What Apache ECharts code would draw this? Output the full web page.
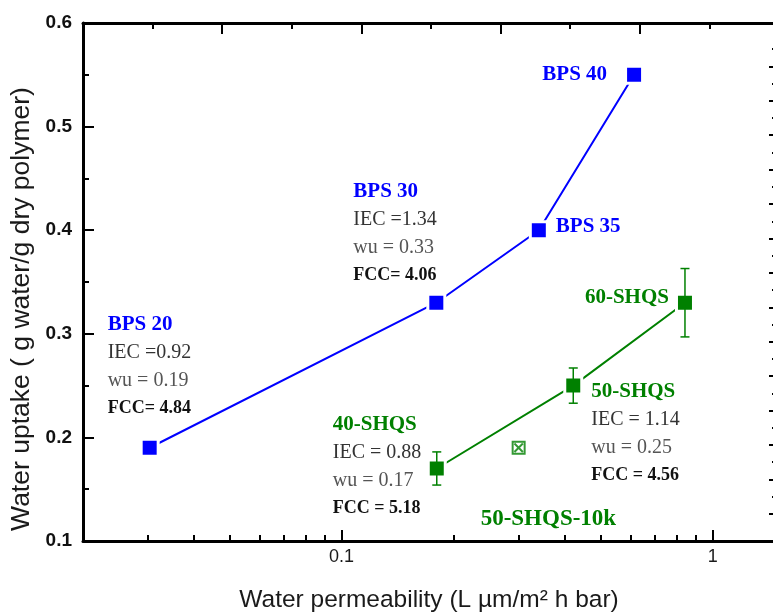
<!DOCTYPE html>
<html>
<head>
<meta charset="utf-8">
<script src="https://cdn.jsdelivr.net/npm/echarts@6/dist/echarts.min.js"></script>
<style>
  html, body { margin: 0; padding: 0; background: #fff; }
  #chart { width: 773px; height: 614px; }
</style>
</head>
<body>
<div id="chart"></div>
<script>
// ---- BPS copolymers ----
const bpsNames = ['BPS 20', 'BPS 30', 'BPS 35', 'BPS 40'];
const bpsPermeability = [0.0304, 0.180, 0.340, 0.614];
const bpsUptake = [0.19, 0.33, 0.40, 0.55];
const bpsIEC = [0.92, 1.34, null, null];
const bpsFCC = [4.84, 4.06, null, null];

// ---- SHQS copolymers ----
const shqsNames = ['40-SHQS', '50-SHQS', '60-SHQS'];
const shqsPermeability = [0.1805, 0.421, 0.842];
const shqsUptake = [0.17, 0.25, 0.33];
const shqsUptakeErr = [0.016, 0.017, 0.033];
const shqsIEC = [0.88, 1.14, null];
const shqsFCC = [5.18, 4.56, null];

// ---- 10k block length variant ----
const hmwNames = ['50-SHQS-10k'];
const hmwPermeability = [0.30];
const hmwUptake = [0.19];

// ---- axes ----
const xTitle = 'Water permeability (L µm/m² h bar)';
const yTitle = 'Water uptake ( g water/g dry polymer)';
const xRange = [0.0201, 1.472];
const xMajorTicks = [0.1, 1];
const xMinorTicks = [0.03, 0.04, 0.05, 0.06, 0.07, 0.08, 0.09, 0.2, 0.3, 0.4, 0.5, 0.6, 0.7, 0.8, 0.9];
const yRange = [0.1, 0.6];
const yStep = 0.1;
// frame ticks along the top and right edges
const topRange = [0, 9.943];
const topMajorTicks = [2, 4, 6, 8];
const topMinorTicks = [1, 3, 5, 7, 9];
const rightRange = [0.424, 30.52];
const rightMajorTicks = [2, 4, 6, 8, 10, 12, 14, 16, 18, 20, 22, 24, 26, 28];
const rightMinorTicks = [3, 5, 7, 9, 11, 13, 15, 17, 19, 21, 23, 25, 27, 29];

const BLUE = '#0000ff';
const GREEN = '#008000';
const lg = Math.log10;

const frameLine = { show: true, onZero: false, lineStyle: { color: '#000', width: 3 } };
const tickStyle = { color: '#000', width: 2 };

const chart = echarts.init(document.getElementById('chart'), null, { renderer: 'canvas' });

const option = {
  animation: false,
  backgroundColor: '#fff',
  grid: { left: 83, top: 23, right: -2, bottom: 73, containLabel: false, outerBoundsMode: 'none' },
  xAxis: [
    {
      type: 'value', position: 'bottom',
      min: lg(xRange[0]), max: lg(xRange[1]),
      axisLine: frameLine,
      axisTick: { show: true, inside: true, length: 11, lineStyle: tickStyle, customValues: xMajorTicks.map(lg) },
      axisLabel: {
        customValues: xMajorTicks.map(lg),
        formatter: v => String(+Math.pow(10, v).toPrecision(6)),
        color: '#1a1a1a', fontSize: 18, fontFamily: 'Liberation Sans', margin: 7
      },
      splitLine: { show: false },
      name: xTitle,
      nameLocation: 'middle', nameGap: 47,
      nameTextStyle: { color: '#1a1a1a', fontSize: 24.5, fontFamily: 'Liberation Sans' }
    },
    {
      type: 'value', position: 'bottom',
      min: lg(xRange[0]), max: lg(xRange[1]),
      axisLine: { show: false, onZero: false },
      axisTick: { show: true, inside: true, length: 6, lineStyle: tickStyle, customValues: xMinorTicks.map(lg) },
      axisLabel: { show: false },
      splitLine: { show: false }
    },
    {
      type: 'value', position: 'top',
      min: topRange[0], max: topRange[1],
      axisLine: frameLine,
      axisTick: { show: true, inside: true, length: 11, lineStyle: tickStyle, customValues: topMajorTicks },
      axisLabel: { show: false },
      splitLine: { show: false }
    },
    {
      type: 'value', position: 'top',
      min: topRange[0], max: topRange[1],
      axisLine: { show: false, onZero: false },
      axisTick: { show: true, inside: true, length: 6, lineStyle: tickStyle, customValues: topMinorTicks },
      axisLabel: { show: false },
      splitLine: { show: false }
    }
  ],
  yAxis: [
    {
      type: 'value', position: 'left',
      min: yRange[0], max: yRange[1], interval: yStep,
      axisLine: frameLine,
      axisTick: { show: true, inside: true, length: 11, lineStyle: tickStyle },
      minorTick: { show: true, splitNumber: 2, length: 6, lineStyle: tickStyle },
      axisLabel: {
        formatter: v => v.toFixed(1),
        color: '#111', fontSize: 19, fontWeight: 'bold', fontFamily: 'Liberation Sans', margin: 11
      },
      splitLine: { show: false },
      minorSplitLine: { show: false }
    },
    {
      type: 'value', position: 'right',
      min: rightRange[0], max: rightRange[1],
      axisLine: frameLine,
      axisTick: { show: true, inside: true, length: 6, lineStyle: tickStyle, customValues: rightMajorTicks },
      axisLabel: { show: false },
      splitLine: { show: false }
    },
    {
      type: 'value', position: 'right',
      min: rightRange[0], max: rightRange[1],
      axisLine: { show: false, onZero: false },
      axisTick: { show: true, inside: true, length: 3, lineStyle: tickStyle, customValues: rightMinorTicks },
      axisLabel: { show: false },
      splitLine: { show: false }
    }
  ],
  series: [
    {
      name: 'BPS', type: 'line', xAxisIndex: 0, yAxisIndex: 0,
      data: bpsPermeability.map((x, i) => [lg(x), bpsUptake[i]]),
      symbol: 'rect', symbolSize: 17, showAllSymbol: true,
      itemStyle: { color: BLUE, borderColor: '#fff', borderWidth: 3 },
      lineStyle: { color: BLUE, width: 2 },
      z: 3
    },
    {
      name: 'SHQS', type: 'line', xAxisIndex: 0, yAxisIndex: 0,
      data: shqsPermeability.map((x, i) => [lg(x), shqsUptake[i]]),
      symbol: 'rect', symbolSize: 17, showAllSymbol: true,
      itemStyle: { color: GREEN, borderColor: '#fff', borderWidth: 3 },
      lineStyle: { color: GREEN, width: 2 },
      z: 3
    },
    {
      name: 'SHQS error', type: 'custom', xAxisIndex: 0, yAxisIndex: 0,
      data: shqsPermeability.map((x, i) => [lg(x), shqsUptake[i] - shqsUptakeErr[i], shqsUptake[i] + shqsUptakeErr[i]]),
      encode: { x: 0, y: [1, 2] },
      renderItem: (params, api) => {
        const lo = api.coord([api.value(0), api.value(1)]);
        const hi = api.coord([api.value(0), api.value(2)]);
        const w = 4.5;
        const st = { stroke: GREEN, lineWidth: 1.5 };
        return {
          type: 'group',
          children: [
            { type: 'line', shape: { x1: lo[0], y1: lo[1], x2: hi[0], y2: hi[1] }, style: st },
            { type: 'line', shape: { x1: lo[0] - w, y1: lo[1], x2: lo[0] + w, y2: lo[1] }, style: st },
            { type: 'line', shape: { x1: hi[0] - w, y1: hi[1], x2: hi[0] + w, y2: hi[1] }, style: st }
          ]
        };
      },
      z: 4
    },
    {
      name: '50-SHQS-10k', type: 'scatter', xAxisIndex: 0, yAxisIndex: 0,
      data: hmwPermeability.map((x, i) => [lg(x), hmwUptake[i]]),
      symbol: 'path://M0,0 L10,0 L10,10 L0,10 Z M1.5,1.5 L8.5,8.5 M8.5,1.5 L1.5,8.5',
      symbolSize: 12,
      itemStyle: { color: '#fff', borderColor: GREEN, borderWidth: 2 },
      z: 4
    }
  ]
};

chart.setOption(option);

// ---- text blocks next to the markers ----
const nameFont = 'bold 21px "Liberation Serif"';
const iecFont = '20px "Liberation Serif"';
const wuFont = '20px "Liberation Serif"';
const fccFont = 'bold 18px "Liberation Serif"';
const lineStep = 28;

const bpsNoteLayout = [
  { dx: -42, dy: -123, align: 'left' },
  { dx: -83, dy: -111, align: 'left' },
  { dx: 17, dy: -4, align: 'left' },
  { dx: -27, dy: 0, align: 'right' }
];
const shqsNoteLayout = [
  { dx: -104, dy: -44, align: 'left' },
  { dx: 18, dy: 6, align: 'left' },
  { dx: -16, dy: -5, align: 'right' }
];
const hmwNoteLayout = [{ dx: -38, dy: 71, align: 'left', font: 'bold 23px "Liberation Serif"' }];

const texts = [];
function addBlock(seriesIndex, point, layout, lines) {
  const p = chart.convertToPixel({ seriesIndex }, point);
  lines.forEach((ln, k) => {
    texts.push({
      type: 'text', z: 10,
      x: p[0] + layout.dx, y: p[1] + layout.dy + k * lineStep,
      style: { text: ln.text, font: ln.font, fill: ln.fill, align: layout.align, verticalAlign: 'middle' }
    });
  });
}

bpsNames.forEach((name, i) => {
  const lines = [{ text: name, font: nameFont, fill: BLUE }];
  if (bpsIEC[i] != null) {
    lines.push({ text: 'IEC =' + bpsIEC[i].toFixed(2), font: iecFont, fill: '#333' });
    lines.push({ text: 'wu = ' + bpsUptake[i].toFixed(2), font: wuFont, fill: '#555' });
    lines.push({ text: 'FCC= ' + bpsFCC[i].toFixed(2), font: fccFont, fill: '#111' });
  }
  addBlock(0, [lg(bpsPermeability[i]), bpsUptake[i]], bpsNoteLayout[i], lines);
});

shqsNames.forEach((name, i) => {
  const lines = [{ text: name, font: nameFont, fill: GREEN }];
  if (shqsIEC[i] != null) {
    lines.push({ text: 'IEC = ' + shqsIEC[i].toFixed(2), font: iecFont, fill: '#333' });
    lines.push({ text: 'wu = ' + shqsUptake[i].toFixed(2), font: wuFont, fill: '#555' });
    lines.push({ text: 'FCC = ' + shqsFCC[i].toFixed(2), font: fccFont, fill: '#111' });
  }
  addBlock(1, [lg(shqsPermeability[i]), shqsUptake[i]], shqsNoteLayout[i], lines);
});

hmwNames.forEach((name, i) => {
  addBlock(3, [lg(hmwPermeability[i]), hmwUptake[i]], hmwNoteLayout[i],
    [{ text: name, font: hmwNoteLayout[i].font, fill: GREEN }]);
});

// y-axis title, centred a little below the plot middle
texts.push({
  type: 'text', z: 10, x: 22, y: 309, rotation: Math.PI / 2,
  style: { text: yTitle, font: '26.5px "Liberation Sans"', fill: '#1a1a1a', align: 'center', verticalAlign: 'middle' }
});

chart.setOption({ graphic: texts });
</script>
</body>
</html>
